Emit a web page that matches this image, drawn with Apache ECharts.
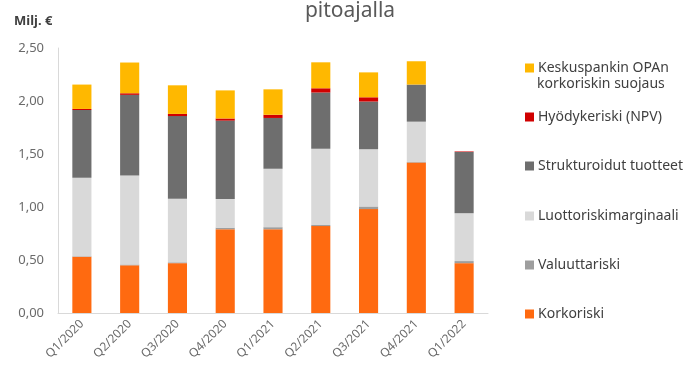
<!DOCTYPE html>
<html>
<head>
<meta charset="utf-8">
<script src="https://cdn.jsdelivr.net/npm/echarts@6/dist/echarts.min.js"></script>
<style>
html,body{margin:0;padding:0;background:#fff;}
#c{width:700px;height:369px;}
</style>
</head>
<body>
<div id="c"></div>
<script>
const categories = ['Q1/2020','Q2/2020','Q3/2020','Q4/2020','Q1/2021','Q2/2021','Q3/2021','Q4/2021','Q1/2022'];
const korkoriski = [0.53, 0.45, 0.47, 0.79, 0.79, 0.82, 0.98, 1.42, 0.47];
const valuuttariski = [0.005, 0.008, 0.008, 0.015, 0.02, 0.01, 0.025, 0.005, 0.02];
const luottoriskimarginaali = [0.74, 0.84, 0.60, 0.27, 0.55, 0.72, 0.54, 0.38, 0.45];
const strukturoidut = [0.64, 0.76, 0.78, 0.74, 0.48, 0.53, 0.45, 0.35, 0.58];
const hyodykeriski = [0.01, 0.015, 0.02, 0.02, 0.03, 0.04, 0.04, 0, 0.005];
const keskuspankki = [0.23, 0.29, 0.27, 0.265, 0.24, 0.245, 0.235, 0.22, 0];
const yTicks = ['0,00','0,50','1,00','1,50','2,00','2,50'];

const FONT = '"Noto Sans", "Open Sans", sans-serif';
const seriesDefs = [
  {name:'Korkoriski', data:korkoriski, color:'#FF6A10', legendTop:302},
  {name:'Valuuttariski', data:valuuttariski, color:'#9E9E9E', legendTop:253},
  {name:'Luottoriskimarginaali', data:luottoriskimarginaali, color:'#D9D9D9', legendTop:204},
  {name:'Strukturoidut tuotteet', data:strukturoidut, color:'#6E6E6E', legendTop:154},
  {name:'Hyödykeriski (NPV)', data:hyodykeriski, color:'#D00000', legendTop:105},
  {name:'Keskuspankin OPAn', data:keskuspankki, color:'#FFB800', legendTop:56}
];

const chart = echarts.init(document.getElementById('c'), null, {renderer:'canvas'});
const option = {
  animation:false,
  backgroundColor:'#fff',
  textStyle:{fontFamily:FONT},
  grid:{left:58, right:212, top:48, bottom:56, containLabel:false},
  xAxis:{
    type:'category', data:categories,
    axisLine:{show:true, lineStyle:{color:'#D9D9D9', width:1}},
    axisTick:{show:false},
    axisLabel:{rotate:45, color:'#6A6A6A', fontSize:12, fontFamily:FONT, margin:9, interval:0}
  },
  yAxis:{
    type:'value', min:0, max:2.5, interval:0.5,
    axisLine:{show:true, lineStyle:{color:'#D9D9D9', width:1}},
    axisTick:{show:false},
    splitLine:{show:false},
    axisLabel:{color:'#6A6A6A', fontSize:13, fontFamily:FONT, margin:14,
      formatter:function(v){ return yTicks[Math.round(v/0.5)]; }}
  },
  legend: seriesDefs.map(s => ({
    data:[s.name], left:520, top:s.legendTop, orient:'vertical',
    icon:'rect', itemWidth:9, itemHeight:9, itemGap:4,
    textStyle:{color:'#404040', fontSize:14, fontFamily:FONT, padding:[0,0,0,-1]},
    selectedMode:false
  })),
  graphic:[
    {type:'text', left:'center', top:1, style:{text:'pitoajalla', fill:'#595959', font:'21px '+FONT}},
    {type:'text', left:14, top:15, style:{text:'Milj. €', fill:'#404040', font:'bold 13px '+FONT}},
    {type:'text', left:537, top:77, style:{text:'korkoriskin suojaus', fill:'#404040', font:'14px '+FONT}}
  ],
  series: seriesDefs.map(s => ({
    name:s.name, type:'bar', stack:'total', data:s.data, barWidth:'40%',
    itemStyle:{color:s.color}
  }))
};
chart.setOption(option);
</script>
</body>
</html>
